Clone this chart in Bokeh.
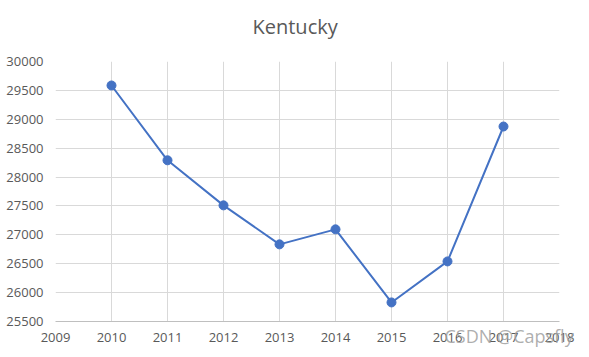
from bokeh.plotting import figure
from bokeh.models import FixedTicker, Range1d, LinearAxis, Title
from bokeh.embed import file_html
from bokeh.resources import INLINE

years = [2010, 2011, 2012, 2013, 2014, 2015, 2016, 2017]
values = [29585, 28290, 27510, 26835, 27095, 25830, 26540, 28875]
x_ticks = list(range(2009, 2019))
y_ticks = list(range(25500, 30001, 500))
title_text = "Kentucky"
watermark_text = "CSDN @Capsfly"
watermark_pos = 2017.1

p = figure(width=589, height=357, output_backend="svg", toolbar_location=None,
           x_range=Range1d(2009, 2018), y_range=Range1d(25500, 30000),
           min_border_left=55, min_border_right=30, min_border_top=61, min_border_bottom=36)
p.title.text = ""

# spacer between frame and title, then the title itself (stacked outward)
spacer = Title(text=" ", text_font_size="10px", standoff=9)
p.add_layout(spacer, "above")
main_title = Title(text=title_text, align="left", offset=197, standoff=0,
                   text_font="Open Sans", text_font_size="20px", text_font_style="normal",
                   text_color="#595959")
p.add_layout(main_title, "above")

p.background_fill_color = "white"
p.border_fill_color = "white"
p.outline_line_color = None

p.xaxis.ticker = FixedTicker(ticks=x_ticks)
p.yaxis.ticker = FixedTicker(ticks=y_ticks)
for ax in (p.xaxis[0], p.yaxis[0]):
    ax.major_tick_line_color = None
    ax.minor_tick_line_color = None
    ax.major_tick_out = 0
    ax.major_tick_in = 0
    ax.minor_tick_out = 0
    ax.minor_tick_in = 0
    ax.major_label_text_color = "#595959"
    ax.major_label_text_font = "Open Sans"
    ax.major_label_text_font_size = "13px"
p.yaxis.axis_line_color = None
p.xaxis.axis_line_color = "#bfbfbf"
p.yaxis.major_label_standoff = 12
p.xaxis.major_label_standoff = 11
p.grid.grid_line_color = "#d9d9d9"
p.grid.grid_line_width = 1

p.line(years, values, line_color="#4472C4", line_width=2)
p.scatter(years, values, size=9, fill_color="#4472C4", line_color="#4472C4")

wm_axis = LinearAxis(ticker=FixedTicker(ticks=[watermark_pos]),
                     major_label_overrides={watermark_pos: watermark_text},
                     axis_line_color=None, major_tick_line_color=None, minor_tick_line_color=None,
                     major_tick_out=0, major_tick_in=0, minor_tick_out=0, minor_tick_in=0,
                     major_label_standoff=-21, major_label_text_font="Open Sans",
                     major_label_text_font_size="18px", major_label_text_color="#a0a0a0",
                     major_label_text_alpha=0.85)
p.add_layout(wm_axis, "below")

open("out.html", "w").write(file_html(p, INLINE))
